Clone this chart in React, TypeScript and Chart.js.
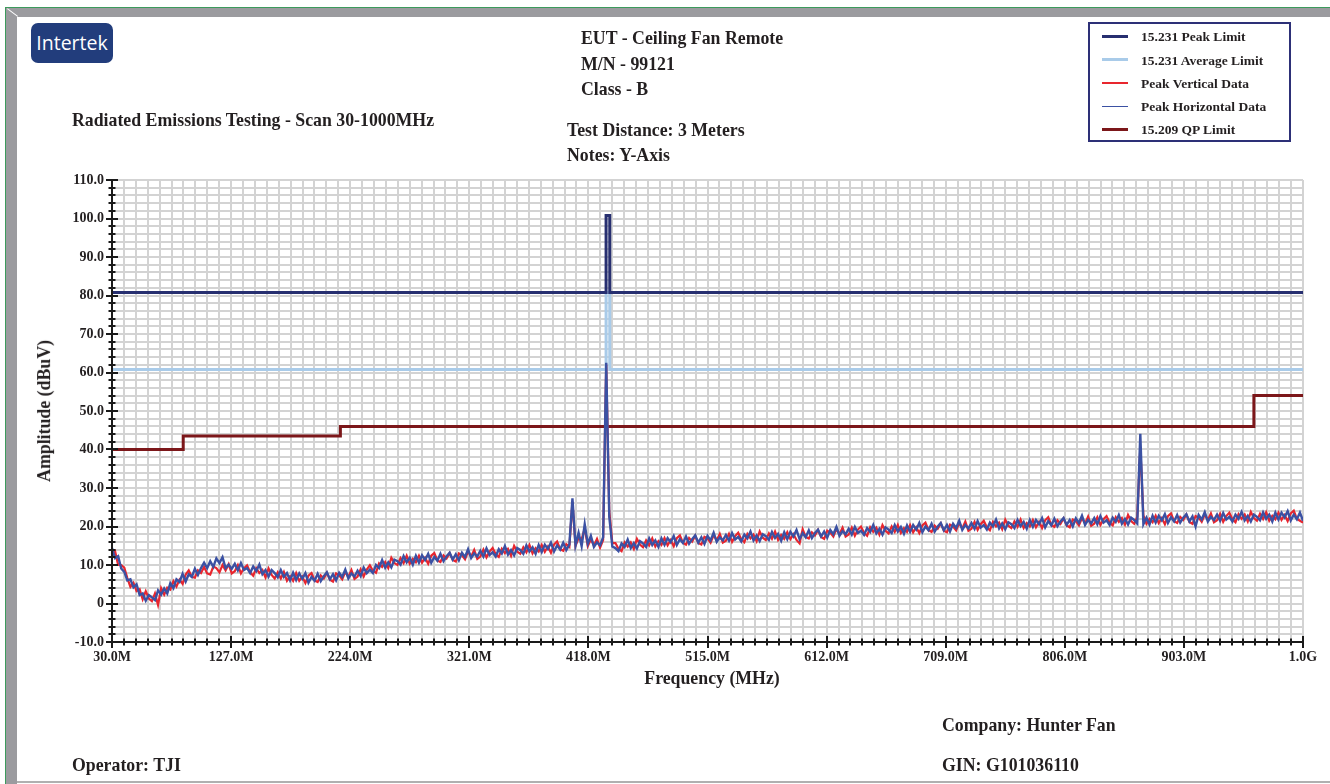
import React, { useEffect, useRef } from 'react';
import { Chart, registerables } from 'chart.js';

Chart.register(...registerables);

// ---------- data ----------
const FREQ_START = 30; // MHz
const FREQ_STEP = 2.5; // MHz between trace samples

const PEAK_VERTICAL = [
  12.9, 13.6, 10.0, 10.0, 9.3, 6.6, 4.3, 5.4, 3.2, 3.7, 1.1, 3.2, 1.3, 0.6, 2.6, -0.4, 4.0, 2.3, 4.1, 3.6,
  5.8, 4.4, 6.2, 5.1, 7.5, 8.6, 6.9, 6.7, 8.6, 7.9, 9.5, 7.8, 7.5, 9.6, 9.2, 8.1, 10.0, 8.6, 10.2, 7.8,
  8.4, 10.0, 7.8, 9.2, 9.9, 8.1, 7.2, 9.2, 7.9, 8.7, 6.8, 9.1, 7.4, 6.5, 8.1, 6.5, 8.2, 5.9, 7.1, 5.9,
  7.9, 5.9, 7.0, 5.3, 7.2, 7.9, 6.0, 5.6, 7.3, 6.5, 8.0, 6.2, 5.7, 7.8, 7.3, 6.3, 8.2, 6.9, 8.7, 6.4,
  7.0, 8.9, 7.0, 8.8, 9.9, 8.5, 8.0, 10.4, 9.5, 10.8, 9.2, 11.9, 10.5, 10.0, 11.8, 10.5, 12.4, 10.3, 11.6, 10.7,
  12.4, 10.6, 11.9, 10.3, 12.4, 13.1, 11.2, 10.8, 12.5, 11.7, 13.1, 11.3, 10.9, 13.0, 12.5, 11.5, 13.5, 12.2, 13.9, 11.6,
  12.2, 14.0, 12.0, 13.5, 14.4, 12.8, 12.1, 14.2, 13.1, 14.2, 12.4, 15.0, 13.5, 12.9, 14.6, 13.3, 15.2, 13.0, 14.4, 13.5,
  15.2, 13.4, 14.8, 13.2, 15.3, 16.1, 14.1, 13.7, 15.4, 14.7, 26.4, 15.0, 17.0, 16.7, 19.5, 14.9, 16.6, 15.1, 16.8, 14.5,
  16.5, 62.0, 24.0, 15.7, 15.7, 14.2, 13.6, 15.9, 14.8, 15.9, 14.2, 16.8, 15.3, 14.6, 16.4, 15.1, 16.9, 14.8, 16.2, 15.2,
  17.0, 15.1, 16.5, 14.9, 17.0, 17.7, 15.8, 15.3, 17.0, 16.1, 17.6, 15.7, 15.3, 17.3, 16.9, 15.8, 17.8, 16.4, 18.1, 15.8,
  16.3, 18.1, 16.0, 17.5, 18.4, 16.7, 15.9, 18.1, 16.9, 17.9, 16.2, 18.7, 17.1, 16.5, 18.2, 16.8, 18.7, 16.5, 17.8, 16.8,
  18.5, 16.7, 18.0, 16.5, 15.6, 19.3, 17.3, 16.9, 18.5, 17.7, 19.1, 17.3, 16.8, 18.9, 18.4, 17.4, 19.3, 18.0, 19.7, 17.4,
  17.9, 19.7, 17.6, 19.2, 20.0, 18.4, 17.6, 19.8, 18.6, 19.7, 17.9, 20.4, 18.9, 18.2, 20.0, 18.6, 20.4, 18.3, 19.6, 18.6,
  20.4, 18.5, 19.8, 18.3, 20.3, 21.0, 19.1, 18.6, 20.2, 19.4, 20.8, 18.9, 18.5, 20.5, 20.0, 19.0, 20.9, 19.5, 21.3, 18.9,
  19.4, 21.2, 19.1, 20.6, 21.5, 19.8, 19.0, 21.2, 20.0, 21.0, 19.3, 21.8, 20.2, 19.6, 21.3, 19.9, 21.8, 19.6, 20.9, 20.0,
  21.7, 19.8, 21.2, 19.6, 21.6, 22.4, 20.4, 19.9, 21.6, 20.7, 22.1, 20.3, 19.8, 21.8, 21.4, 20.3, 22.2, 20.8, 22.6, 20.2,
  20.7, 22.4, 20.4, 21.9, 22.7, 21.0, 20.3, 22.4, 21.2, 22.2, 20.5, 23.0, 21.4, 20.7, 22.5, 40.5, 22.9, 20.7, 22.0, 21.1,
  22.8, 20.9, 22.2, 20.6, 22.7, 23.4, 21.4, 20.9, 22.5, 21.7, 23.1, 21.2, 20.7, 22.7, 22.3, 21.2, 23.1, 21.7, 23.4, 21.1,
  21.6, 23.3, 21.2, 22.7, 23.6, 21.9, 21.1, 23.2, 22.0, 23.1, 21.3, 23.8, 22.2, 21.5, 23.3, 21.9, 23.7, 21.5, 22.8, 21.9,
  23.6, 21.7, 23.0, 21.4, 23.4, 24.1, 22.0, 21.5, 21.0,
];

const PEAK_HORIZONTAL = [
  14.4, 11.8, 12.3, 9.1, 8.2, 6.0, 6.3, 4.2, 5.0, 2.2, 2.6, 0.7, 2.2, 1.6, 0.9, 3.4, 2.3, 3.9, 2.6, 5.3,
  4.0, 6.3, 5.6, 7.7, 5.7, 7.6, 6.9, 9.0, 7.4, 9.2, 10.6, 9.2, 11.0, 9.5, 11.7, 10.5, 12.0, 9.2, 10.1, 9.0,
  10.3, 8.6, 10.5, 8.7, 9.2, 7.9, 9.6, 8.4, 10.1, 7.6, 8.7, 7.0, 8.7, 7.9, 6.8, 8.7, 6.9, 7.9, 6.0, 8.0,
  6.1, 7.8, 6.4, 7.9, 5.4, 6.9, 5.9, 7.7, 5.8, 7.1, 8.1, 6.3, 7.6, 6.0, 8.0, 6.9, 8.8, 6.5, 7.8, 7.0,
  8.5, 7.1, 9.3, 7.9, 8.8, 7.9, 10.0, 9.2, 11.3, 9.3, 10.7, 9.4, 11.4, 11.0, 10.1, 12.3, 10.7, 11.9, 10.1, 12.4,
  10.6, 12.5, 11.3, 12.9, 10.6, 12.1, 11.1, 12.9, 11.0, 12.3, 13.2, 11.4, 12.8, 11.2, 13.2, 12.1, 14.1, 11.8, 13.0, 12.2,
  13.7, 12.2, 14.3, 12.6, 13.3, 12.2, 14.1, 13.0, 14.9, 12.7, 13.9, 12.5, 14.4, 13.9, 12.9, 15.1, 13.5, 14.6, 12.9, 15.2,
  13.4, 15.3, 14.2, 15.8, 13.5, 15.1, 14.0, 15.8, 13.9, 15.3, 27.3, 15.1, 18.4, 14.9, 20.6, 15.5, 17.6, 14.7, 15.9, 15.1,
  17.2, 62.5, 22.5, 14.8, 14.4, 13.6, 15.6, 14.7, 16.6, 14.4, 15.7, 14.3, 16.2, 15.6, 14.7, 16.9, 15.2, 16.4, 14.7, 16.9,
  15.2, 17.0, 15.9, 17.5, 15.2, 16.7, 15.7, 17.4, 15.5, 16.7, 17.7, 15.8, 17.2, 15.5, 17.6, 16.4, 18.4, 16.0, 17.2, 16.4,
  17.8, 16.3, 18.3, 16.6, 17.3, 16.1, 17.9, 16.9, 18.7, 16.4, 17.7, 16.2, 18.0, 17.5, 16.5, 18.6, 17.0, 18.1, 16.3, 18.5,
  16.7, 18.6, 17.4, 19.1, 16.7, 18.3, 17.2, 19.0, 17.0, 18.3, 19.2, 17.4, 18.7, 17.1, 19.1, 18.0, 19.9, 17.6, 18.8, 18.0,
  19.4, 17.9, 19.9, 18.3, 18.9, 17.8, 19.6, 18.6, 20.4, 18.2, 19.4, 17.9, 19.8, 19.2, 18.3, 20.4, 18.7, 19.9, 18.1, 20.3,
  18.6, 20.4, 19.2, 20.9, 18.5, 20.0, 19.0, 20.7, 18.7, 20.0, 20.9, 19.0, 20.4, 18.7, 20.7, 19.6, 21.5, 19.1, 20.4, 19.5,
  20.9, 19.4, 21.4, 19.7, 20.4, 19.2, 21.0, 20.0, 21.8, 19.5, 20.8, 19.3, 21.1, 20.6, 19.6, 21.7, 20.1, 21.2, 19.4, 21.7,
  19.9, 21.7, 20.6, 22.2, 19.8, 21.4, 20.3, 22.0, 20.1, 21.3, 22.2, 20.4, 21.7, 20.0, 22.1, 20.9, 22.8, 20.4, 21.7, 20.8,
  22.2, 20.6, 22.7, 21.0, 21.6, 20.4, 22.3, 21.2, 23.0, 20.7, 22.0, 20.5, 22.3, 21.7, 20.8, 44.1, 20.6, 22.3, 20.5, 22.8,
  21.0, 22.8, 21.6, 23.2, 20.9, 22.4, 21.3, 23.0, 21.0, 22.3, 23.2, 21.3, 22.6, 20.0, 23.0, 21.8, 23.7, 21.3, 22.5, 21.7,
  23.1, 21.5, 23.5, 21.8, 22.5, 21.3, 23.1, 22.0, 23.8, 21.6, 22.8, 21.3, 23.1, 22.5, 21.6, 23.7, 22.0, 23.1, 21.3, 23.6,
  21.8, 23.6, 22.4, 24.0, 21.6, 23.1, 21.9, 23.6, 21.5,
];

// 15.231 limits (MHz / dBuV), with the 433.92 MHz fundamental allowance
const LIMIT_231_FREQ = [30, 432.4, 432.4, 435.4, 435.4, 1000];
const PEAK_LIMIT_VALUES = [80.8, 80.8, 100.8, 100.8, 80.8, 80.8];
const AVG_LIMIT_VALUES = [60.8, 60.8, 80.8, 80.8, 60.8, 60.8];

// 15.209 QP limit
const QP_LIMIT_FREQ = [30, 88, 88, 216, 216, 960, 960, 1000];
const QP_LIMIT_VALUES = [40, 40, 43.5, 43.5, 46, 46, 54, 54];

// axes
const X_MIN = 30;
const X_MAX = 1000;
const X_GRID_STEP = 9.7;
const X_GRID_COUNT = 100;
const X_TICK_LABELS = ['30.0M', '127.0M', '224.0M', '321.0M', '418.0M', '515.0M', '612.0M', '709.0M', '806.0M', '903.0M', '1.0G'];
const Y_MIN = -10;
const Y_MAX = 110;
const Y_GRID_STEP = 2;
const Y_TICK_VALUES = [110, 100, 90, 80, 70, 60, 50, 40, 30, 20, 10, 0, -10];
const Y_TICK_LABELS = ['110.0', '100.0', '90.0', '80.0', '70.0', '60.0', '50.0', '40.0', '30.0', '20.0', '10.0', '0', '-10.0'];

const LEGEND_ITEMS = [
  { label: '15.231 Peak Limit', color: '#272f70', width: 3 },
  { label: '15.231 Average Limit', color: '#a9cbe9', width: 3 },
  { label: 'Peak Vertical Data', color: '#e8262e', width: 1.5 },
  { label: 'Peak Horizontal Data', color: '#3b51a3', width: 1.5 },
  { label: '15.209 QP Limit', color: '#7c171a', width: 3 },
];

const SERIF = '"Liberation Serif", "Times New Roman", serif';
const TITLE_SIZE = 17.8;

const pairs = (xs: number[], ys: number[]) => xs.map((x, i) => ({ x, y: ys[i] }));
const trace = (ys: number[]) => ys.map((y, i) => ({ x: FREQ_START + i * FREQ_STEP, y }));

const axisPlugin = {
  id: 'axisTicks',
  afterDraw(chart: any) {
    const { ctx, chartArea: a, scales } = chart;
    const xs = scales.x;
    const ys = scales.y;
    ctx.save();
    ctx.strokeStyle = '#1a1a1a';
    ctx.lineWidth = 2;
    ctx.beginPath();
    ctx.moveTo(a.left, a.top);
    ctx.lineTo(a.left, a.bottom);
    ctx.lineTo(a.right, a.bottom);
    ctx.stroke();
    ys.ticks.forEach((t: any) => {
      const py = Math.round(ys.getPixelForValue(t.value));
      const major = Math.abs(t.value % 10) < 1e-6;
      const h = major ? 6 : 3.5;
      ctx.beginPath();
      ctx.moveTo(a.left - h, py);
      ctx.lineTo(a.left + h, py);
      ctx.stroke();
    });
    xs.ticks.forEach((t: any, i: number) => {
      const px = Math.round(xs.getPixelForValue(t.value));
      const major = i % 10 === 0;
      const h = major ? 6 : 3.5;
      ctx.beginPath();
      ctx.moveTo(px, a.bottom - h);
      ctx.lineTo(px, a.bottom + h);
      ctx.stroke();
    });
    ctx.restore();
  },
};

function Txt(props: { x: number; base: number; size: number; children: React.ReactNode; style?: React.CSSProperties }) {
  const { x, base, size, children, style } = props;
  return (
    <div
      style={{
        position: 'absolute',
        left: x,
        top: base - 0.8375 * size,
        fontFamily: SERIF,
        fontWeight: 'bold',
        fontSize: size,
        lineHeight: `${size}px`,
        whiteSpace: 'nowrap',
        color: '#231f20',
        ...style,
      }}
    >
      {children}
    </div>
  );
}

export default function App() {
  const canvasRef = useRef<HTMLCanvasElement | null>(null);

  useEffect(() => {
    if (!canvasRef.current) return;
    const chart = new Chart(canvasRef.current, {
      type: 'scatter',
      data: {
        datasets: [
          {
            label: 'Peak Horizontal Data',
            data: trace(PEAK_HORIZONTAL),
            borderColor: '#3b51a3',
            borderWidth: 2.4,
            showLine: true,
            pointRadius: 0,
            order: 0,
          },
          {
            label: 'Peak Vertical Data',
            data: trace(PEAK_VERTICAL),
            borderColor: '#e8262e',
            borderWidth: 2.2,
            showLine: true,
            pointRadius: 0,
            order: 1,
          },
          {
            label: '15.209 QP Limit',
            data: pairs(QP_LIMIT_FREQ, QP_LIMIT_VALUES),
            borderColor: '#7c171a',
            borderWidth: 3,
            showLine: true,
            pointRadius: 0,
            order: 2,
          },
          {
            label: '15.231 Peak Limit',
            data: pairs(LIMIT_231_FREQ, PEAK_LIMIT_VALUES),
            borderColor: '#272f70',
            borderWidth: 3,
            showLine: true,
            pointRadius: 0,
            order: 3,
          },
          {
            label: '15.231 Average Limit',
            data: pairs(LIMIT_231_FREQ, AVG_LIMIT_VALUES),
            borderColor: '#a9cbe9',
            borderWidth: 3,
            showLine: true,
            pointRadius: 0,
            order: 4,
          },
        ],
      },
      options: {
        animation: false,
        responsive: false,
        maintainAspectRatio: false,
        events: [],
        layout: { padding: { left: 0, right: 27, top: 180, bottom: 0 } },
        plugins: { legend: { display: false }, tooltip: { enabled: false } },
        scales: {
          x: {
            type: 'linear',
            min: X_MIN,
            max: X_MAX,
            afterBuildTicks: (scale: any) => {
              scale.ticks = Array.from({ length: X_GRID_COUNT + 1 }, (_, i) => ({ value: X_MIN + i * X_GRID_STEP }));
            },
            afterFit: (scale: any) => {
              scale.height = 142;
            },
            grid: { color: '#d3d3d3', lineWidth: 2, drawTicks: false },
            border: { display: false },
            ticks: {
              autoSkip: false,
              maxRotation: 0,
              padding: 7,
              color: '#231f20',
              font: { family: SERIF, size: 14, weight: 'bold' },
              callback: (_v: any, i: number) => (i % 10 === 0 ? X_TICK_LABELS[i / 10] : ''),
            },
          },
          y: {
            type: 'linear',
            min: Y_MIN,
            max: Y_MAX,
            afterFit: (scale: any) => {
              scale.width = 112;
            },
            grid: { color: '#d3d3d3', lineWidth: 2, drawTicks: false },
            border: { display: false },
            ticks: {
              stepSize: Y_GRID_STEP,
              autoSkip: false,
              padding: 8,
              color: '#231f20',
              font: { family: SERIF, size: 14, weight: 'bold' },
              callback: (v: any) => {
                const k = Y_TICK_VALUES.findIndex((t) => Math.abs(t - Number(v)) < 1e-6);
                return k >= 0 ? Y_TICK_LABELS[k] : '';
              },
            },
          },
        },
      },
      plugins: [axisPlugin],
    } as any);
    return () => chart.destroy();
  }, []);

  const legendBase = [41.7, 64.9, 88.1, 111.3, 134.5];

  return (
    <div style={{ position: 'fixed', left: 0, top: 0, width: 1330, height: 784, background: '#fff', overflow: 'hidden' }}>
      <canvas ref={canvasRef} width={1330} height={784} style={{ position: 'absolute', left: 0, top: 0, width: 1330, height: 784 }} />

      {/* frame */}
      <div style={{ position: 'absolute', left: 5, top: 7, width: 1325, height: 1, background: '#3c9a5c' }} />
      <div style={{ position: 'absolute', left: 5, top: 7, width: 1, height: 777, background: '#3c9a5c' }} />
      <div style={{ position: 'absolute', left: 6, top: 8, width: 1324, height: 9, background: '#9b9b9f' }} />
      <div style={{ position: 'absolute', left: 6, top: 8, width: 11, height: 776, background: '#9b9b9f' }} />
      <div style={{ position: 'absolute', left: 6, top: 12, width: 13, height: 1, background: '#ffffff', transform: 'rotate(37deg)' }} />
      <div style={{ position: 'absolute', left: 17, top: 781, width: 1313, height: 2, background: '#b0b0b0' }} />

      {/* logo */}
      <div
        style={{
          position: 'absolute',
          left: 31,
          top: 23,
          width: 82,
          height: 40,
          borderRadius: 7,
          background: '#223d7c',
          color: '#fff',
          fontFamily: '"Open Sans", "Noto Sans", sans-serif',
          fontWeight: 500,
          fontSize: 19.5,
          lineHeight: '40px',
          textAlign: 'center',
        }}
      >
        Intertek
      </div>

      {/* header texts */}
      <Txt x={581} base={45} size={TITLE_SIZE}>EUT - Ceiling Fan Remote</Txt>
      <Txt x={581} base={70.7} size={TITLE_SIZE}>M/N - 99121</Txt>
      <Txt x={581} base={96} size={TITLE_SIZE}>Class - B</Txt>
      <Txt x={72} base={126.7} size={TITLE_SIZE}>Radiated Emissions Testing - Scan 30-1000MHz</Txt>
      <Txt x={567} base={137.3} size={TITLE_SIZE}>Test Distance: 3 Meters</Txt>
      <Txt x={567} base={161.7} size={TITLE_SIZE}>Notes: Y-Axis</Txt>

      {/* legend */}
      <div
        style={{
          position: 'absolute',
          left: 1088,
          top: 22,
          width: 203,
          height: 120,
          boxSizing: 'border-box',
          border: '2px solid #2d3077',
        }}
      />
      {LEGEND_ITEMS.map((it, i) => (
        <React.Fragment key={it.label}>
          <div
            style={{
              position: 'absolute',
              left: 1102,
              top: legendBase[i] - 5 - it.width / 2,
              width: 26,
              height: it.width,
              background: it.color,
            }}
          />
          <Txt x={1141} base={legendBase[i]} size={13.5}>{it.label}</Txt>
        </React.Fragment>
      ))}

      {/* axis titles */}
      <Txt x={712} base={685} size={TITLE_SIZE} style={{ transform: 'translateX(-50%)' }}>Frequency (MHz)</Txt>
      <div
        style={{
          position: 'absolute',
          left: 45.1 - 100,
          top: 411 - TITLE_SIZE / 2,
          width: 200,
          height: TITLE_SIZE,
          textAlign: 'center',
          fontFamily: SERIF,
          fontWeight: 'bold',
          fontSize: TITLE_SIZE,
          lineHeight: `${TITLE_SIZE}px`,
          whiteSpace: 'nowrap',
          color: '#231f20',
          transform: 'rotate(-90deg)',
        }}
      >
        Amplitude (dBuV)
      </div>

      {/* footer texts */}
      <Txt x={942} base={732} size={TITLE_SIZE}>Company: Hunter Fan</Txt>
      <Txt x={72} base={772} size={TITLE_SIZE}>Operator: TJI</Txt>
      <Txt x={942} base={772} size={TITLE_SIZE}>GIN: G101036110</Txt>
    </div>
  );
}
